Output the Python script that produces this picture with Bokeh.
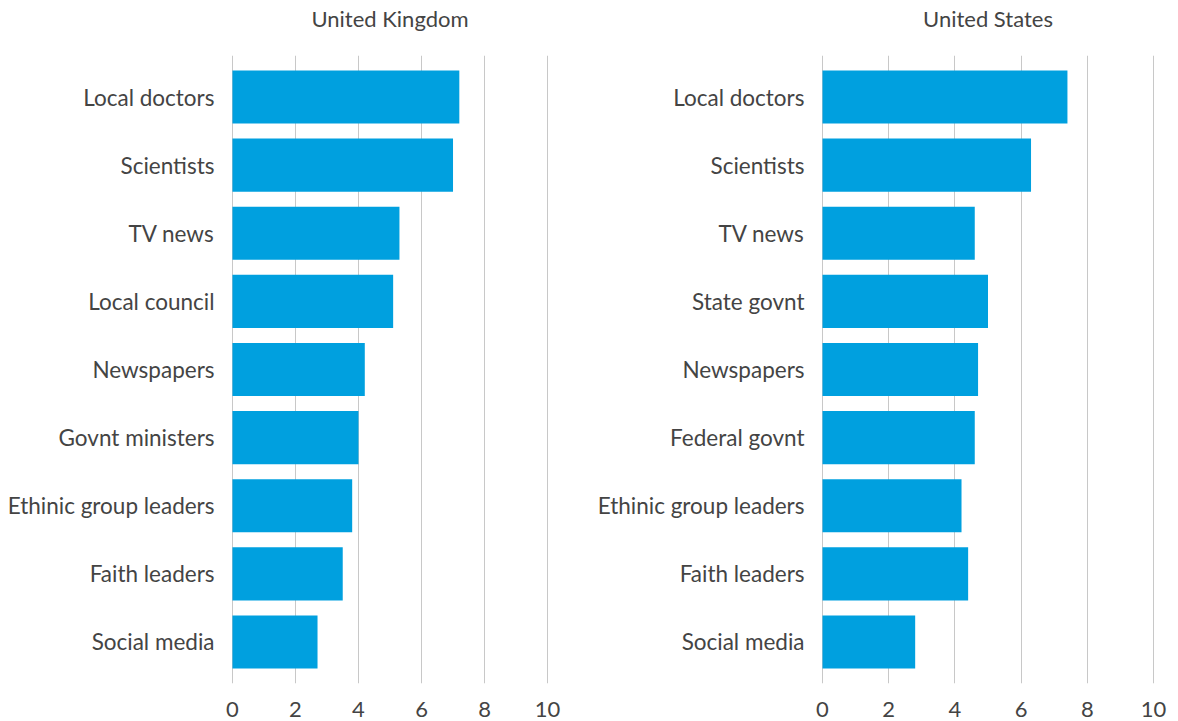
from bokeh.plotting import figure
from bokeh.layouts import row
from bokeh.models import FactorRange, Range1d, Title
from bokeh.embed import file_html
from bokeh.resources import INLINE

uk_categories = ["Local doctors", "Scientists", "TV news", "Local council", "Newspapers",
                 "Govnt ministers", "Ethinic group leaders", "Faith leaders", "Social media"]
uk_values = [7.2, 7.0, 5.3, 5.1, 4.2, 4.0, 3.8, 3.5, 2.7]

us_categories = ["Local doctors", "Scientists", "TV news", "State govnt", "Newspapers",
                 "Federal govnt", "Ethinic group leaders", "Faith leaders", "Social media"]
us_values = [7.4, 6.3, 4.6, 5.0, 4.7, 4.6, 4.2, 4.4, 2.8]

x_ticks = [0, 2, 4, 6, 8, 10]

BAR = "#00A0DF"
TEXT = "#444444"
GRID = "#c8c8c8"
FONT = "Lato"

HEIGHT = 721


def make_panel(title, cats, vals, width, border_left, frame_w):
    yr = FactorRange(factors=list(reversed(cats)), range_padding=0.11,
                     range_padding_units="absolute")
    p = figure(width=width, height=HEIGHT, y_range=yr, x_range=Range1d(-0.03, 10.03),
               output_backend="svg", toolbar_location=None,
               min_border_left=border_left, min_border_right=width - border_left - frame_w,
               min_border_top=0, min_border_bottom=38)
    p.hbar(y=cats, right=vals, left=0, height=0.78, color=BAR, line_color=None)
    spacer = Title(text=" ", text_font_size="1px", standoff=17)
    t = Title(text=title, align="center", vertical_align="middle",
              text_baseline="middle", text_font=FONT, text_font_size="22px",
              text_font_style="normal", text_color=TEXT, standoff=6)
    p.add_layout(spacer, "above")
    p.add_layout(t, "above")
    p.outline_line_color = None
    p.background_fill_color = "white"
    p.border_fill_color = "white"
    p.ygrid.grid_line_color = None
    p.xgrid.grid_line_color = GRID
    p.xgrid.grid_line_width = 1
    p.xaxis.ticker = x_ticks
    p.xaxis.axis_line_color = None
    p.xaxis.major_tick_line_color = None
    p.xaxis.minor_tick_line_color = None
    p.xaxis.major_label_text_font = FONT
    p.xaxis.major_label_text_font_size = "22px"
    p.xaxis.major_label_text_color = TEXT
    p.xaxis.major_label_standoff = 12
    p.yaxis.axis_line_color = None
    p.yaxis.major_tick_line_color = None
    p.yaxis.minor_tick_line_color = None
    p.yaxis.major_label_text_font = FONT
    p.yaxis.major_label_text_font_size = "22.5px"
    p.yaxis.major_label_text_color = TEXT
    p.yaxis.major_label_standoff = 11
    return p


p1 = make_panel("United Kingdom", uk_categories, uk_values, 590, 231, 317)
p2 = make_panel("United States", us_categories, us_values, 588, 231, 333)
p = row(p1, p2)

open("out.html", "w").write(file_html(p, INLINE))
